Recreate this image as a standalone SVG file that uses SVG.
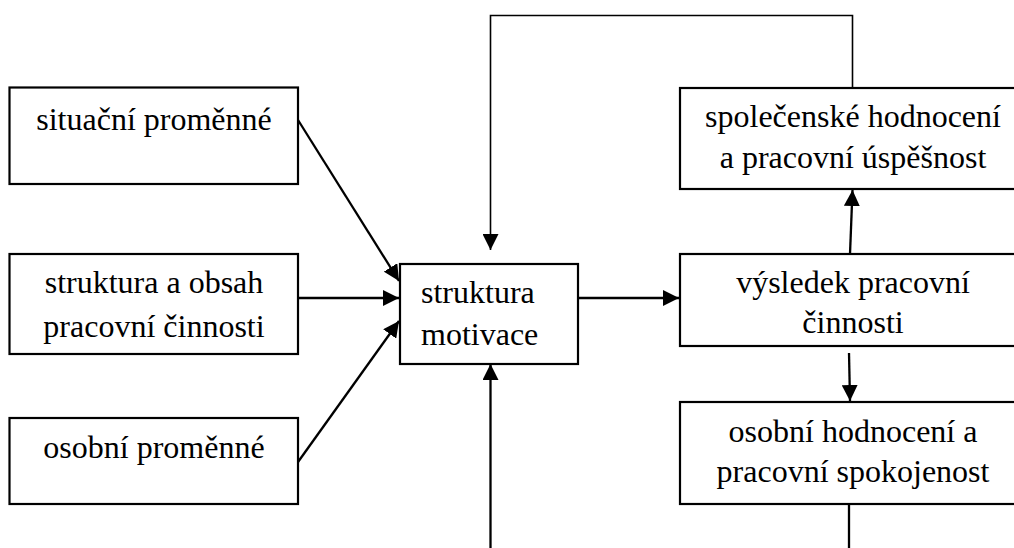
<svg xmlns="http://www.w3.org/2000/svg" width="1014" height="548" viewBox="0 0 1014 548">
<style>
.box{fill:#fff;stroke:#000;stroke-width:2.2}
.t{font-family:"Liberation Serif","Times New Roman",serif;font-size:32px;fill:#000}
.c{text-anchor:middle}
.ln{fill:none;stroke:#000;stroke-width:2.3}
.thin{fill:none;stroke:#000;stroke-width:1.6}
</style>
<defs>
<marker id="ah" markerUnits="userSpaceOnUse" markerWidth="17" markerHeight="16" refX="16" refY="8" orient="auto">
<path d="M0,0 L16,8 L0,16 Z" fill="#000"/>
</marker>
</defs>
<rect width="1014" height="548" fill="#fff"/>
<g id="connectors">
<path class="thin" d="M852.5,88 V15.5 H490.5 V250" marker-end="url(#ah)"/>
<line class="ln" x1="490.5" y1="548" x2="490.5" y2="364" marker-end="url(#ah)"/>
<line class="ln" x1="849" y1="504" x2="849" y2="548"/>
<line class="ln" x1="298" y1="120" x2="399" y2="281" marker-end="url(#ah)"/>
<line class="ln" x1="298" y1="298" x2="399" y2="298" marker-end="url(#ah)"/>
<line class="ln" x1="298" y1="462" x2="399" y2="321" marker-end="url(#ah)"/>
<line class="ln" x1="578" y1="298" x2="679" y2="298" marker-end="url(#ah)"/>
<line class="ln" x1="850" y1="254" x2="852.5" y2="190" marker-end="url(#ah)"/>
<line class="ln" x1="849" y1="353" x2="850" y2="401" marker-end="url(#ah)"/>
</g>
<g id="n-situacni">
<rect class="box" x="9.5" y="87.5" width="288.5" height="96.5"/>
<text class="t c" x="154" y="130">situační proměnné</text>
</g>
<g id="n-struktura-obsah">
<rect class="box" x="9.5" y="254" width="288.5" height="100"/>
<text class="t c" x="154" y="293">struktura a obsah</text>
<text class="t c" x="154" y="337">pracovní činnosti</text>
</g>
<g id="n-osobni-promenne">
<rect class="box" x="9.5" y="418" width="288.5" height="86"/>
<text class="t c" x="154" y="458">osobní proměnné</text>
</g>
<g id="n-motivace">
<rect class="box" x="400" y="264" width="178" height="100"/>
<text class="t" x="421" y="303">struktura</text>
<text class="t" x="421" y="345">motivace</text>
</g>
<g id="n-spolecenske">
<rect class="box" x="680" y="88" width="346" height="101"/>
<text class="t c" x="853" y="127">společenské hodnocení</text>
<text class="t c" x="853" y="168">a pracovní úspěšnost</text>
</g>
<g id="n-vysledek">
<rect class="box" x="680" y="254" width="346" height="92"/>
<text class="t c" x="853" y="293">výsledek pracovní</text>
<text class="t c" x="853" y="333">činnosti</text>
</g>
<g id="n-osobni-hodnoceni">
<rect class="box" x="680" y="402" width="346" height="102"/>
<text class="t c" x="853" y="442">osobní hodnocení a</text>
<text class="t c" x="853" y="482">pracovní spokojenost</text>
</g>
</svg>
